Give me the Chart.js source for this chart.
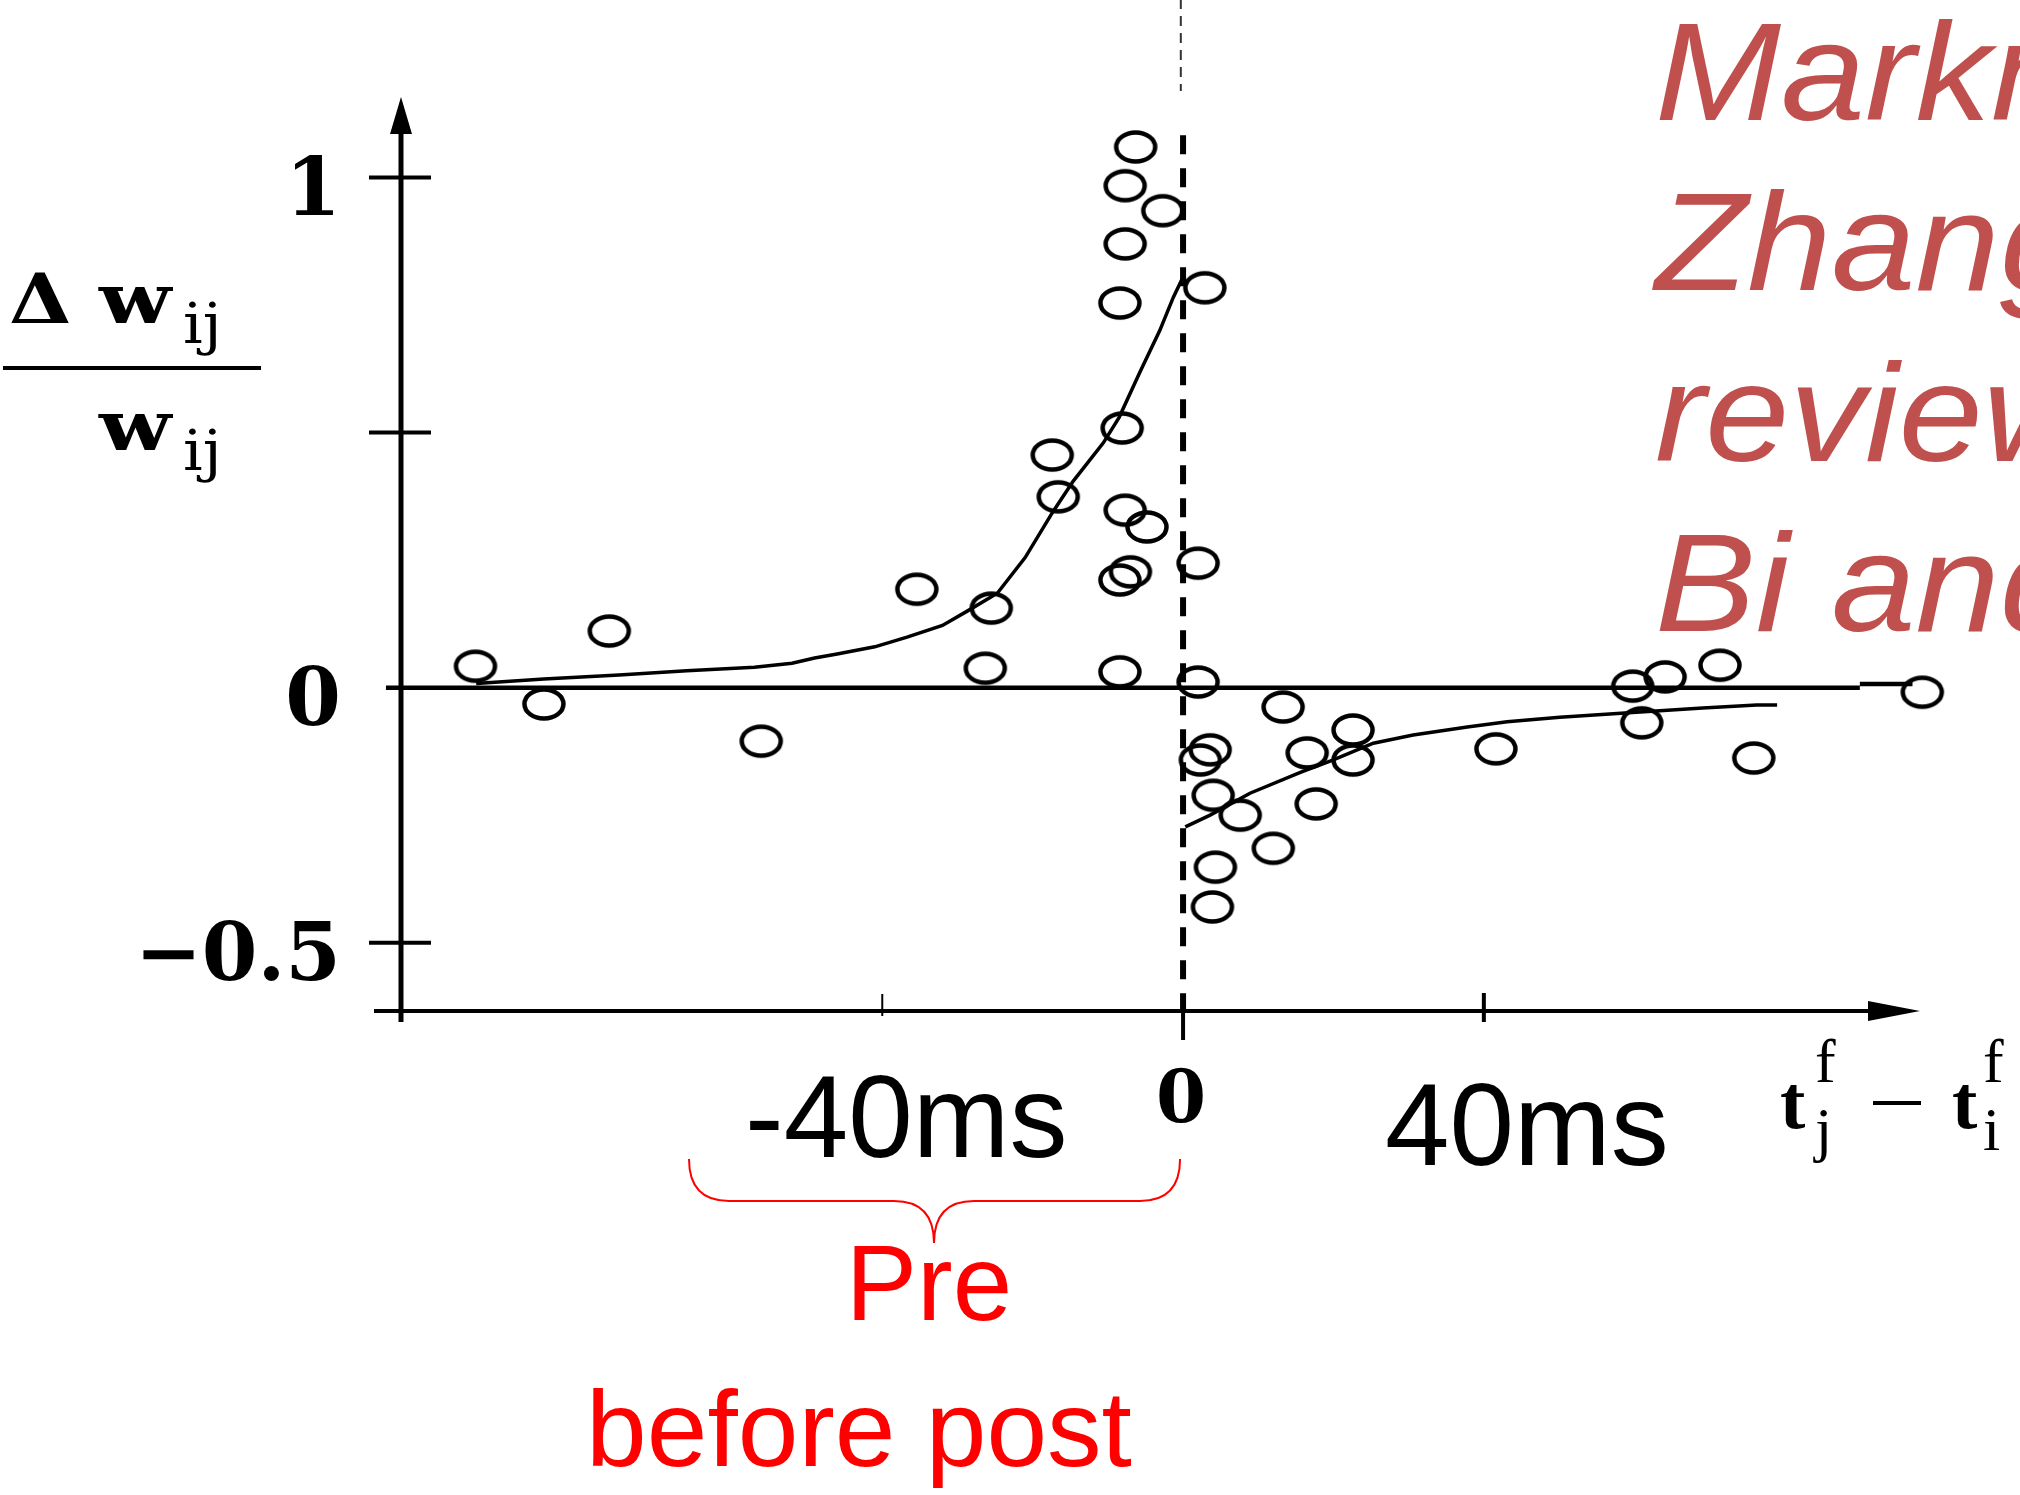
<!DOCTYPE html>
<html>
<head>
<meta charset="utf-8">
<script src="https://cdn.jsdelivr.net/npm/chart.js@4.4.1/dist/chart.umd.min.js"></script>
<style>
  html, body { margin: 0; padding: 0; background: #fff; overflow: hidden; }
  canvas { display: block; }
</style>
</head>
<body>
<canvas id="stdp" width="2020" height="1495" style="width:2020px;height:1495px"></canvas>
<script>
// STDP window (Bi & Poo style): relative weight change vs spike timing

// measured points, x in ms (t_j - t_i), y = dw/w
const pointX = [-94.1, -85.0, -76.3, -56.1, -35.4, -25.5, -26.3, -17.4, -16.6, -8.4,
                -8.1, -7.7, -4.8, -8.4, -7.0, -8.4, -7.7, -7.7, -6.3, -2.7,
                2.9, 2.0, 2.0, 13.3, 3.6, 2.3, 4.0, 7.6, 4.3, 3.9,
                12.0, 17.7, 16.5, 22.6, 22.6, 41.6, 59.8, 64.1, 71.4, 61.0,
                75.9, 98.3];
const pointY = [0.042, -0.032, 0.111, -0.105, 0.193, 0.156, 0.038, 0.456, 0.374, 0.031,
                0.509, 0.348, 0.315, 0.211, 0.227, 0.754, 0.870, 0.984, 1.060, 0.935,
                0.784, 0.244, 0.011, -0.038, -0.122, -0.142, -0.211, -0.250, -0.352, -0.430,
                -0.315, -0.228, -0.128, -0.083, -0.142, -0.120, 0.003, 0.021, 0.044, -0.069,
                -0.138, -0.009];

// fitted curves
const leftFitX = [-94, -85, -75, -66, -57, -52, -49, -46, -41, -36.7, -32, -28.7, -24.7, -21, -17.3, -14.6, -10.6, -8.5, -5.7, -3.1, -1.3, 0];
const leftFitY = [0.008, 0.017, 0.025, 0.033, 0.040, 0.048, 0.058, 0.066, 0.080, 0.099, 0.122, 0.150, 0.185, 0.255, 0.345, 0.405, 0.480, 0.530, 0.620, 0.700, 0.765, 0.805];
const rightFitX = [0.3, 3.6, 8.9, 15.6, 19.9, 25.3, 30.6, 37.8, 43.1, 50.1, 60.8, 69.1, 76.3, 79];
const rightFitY = [-0.273, -0.250, -0.207, -0.166, -0.142, -0.109, -0.093, -0.077, -0.067, -0.058, -0.048, -0.040, -0.034, -0.034];

// reference lines
const zeroLineX = [-106, 90];
const zeroLineY = [0, 0];
const zeroTailX = [90, 97];
const zeroTailY = [0.007, 0.007];
const splitX = [0, 0];
const splitY = [1.083, -0.634];
const guideX = [-0.3, -0.3];
const guideY = [1.35, 1.17];

// axes
const yTickValues = [-0.5, 0, 0.5, 1];
const yTickLabels = ['\u22120.5', '0', '', '1'];
const xTickValues = [-40, 0, 40];
const xTickLabels = ['-40ms', '0', '40ms'];

const citations = ['Markram et al. 1997', 'Zhang et al. 1998', 'review', 'Bi and Poo 2001'];

const toXY = (xs, ys) => xs.map((x, i) => ({ x, y: ys[i] }));

// open ellipse marker, like the scanned figure
function ellipseMarker() {
    const c = document.createElement('canvas');
    c.width = 48;
    c.height = 38;
    const g = c.getContext('2d');
    g.strokeStyle = '#000';
    g.lineWidth = 4.5;
    g.beginPath();
    g.ellipse(24, 19, 19.5, 14.5, 0, 0, Math.PI * 2);
    g.stroke();
    return c;
}

function line(ctx, x1, y1, x2, y2) {
    ctx.beginPath();
    ctx.moveTo(x1, y1);
    ctx.lineTo(x2, y2);
    ctx.stroke();
}

function tri(ctx, p1, p2, p3) {
    ctx.beginPath();
    ctx.moveTo(p1[0], p1[1]);
    ctx.lineTo(p2[0], p2[1]);
    ctx.lineTo(p3[0], p3[1]);
    ctx.closePath();
    ctx.fill();
}

function text(ctx, str, x, y, font, sx, align) {
    ctx.save();
    ctx.font = font;
    ctx.textAlign = align || 'left';
    ctx.textBaseline = 'alphabetic';
    ctx.translate(x, y);
    ctx.scale(sx || 1, 1);
    ctx.fillText(str, 0, 0);
    ctx.restore();
}

// axis lines, arrows and cross ticks
const axesPlugin = {
    id: 'axes',
    beforeDatasetsDraw(chart) {
        const { ctx, chartArea: a, scales: { x, y } } = chart;
        ctx.save();
        ctx.strokeStyle = '#000';
        ctx.fillStyle = '#000';

        ctx.lineWidth = 5;
        line(ctx, a.left, a.top + 20, a.left, a.bottom + 11);
        tri(ctx, [a.left, a.top], [a.left - 11, a.top + 37], [a.left + 11, a.top + 37]);

        ctx.lineWidth = 4;
        line(ctx, a.left - 27, a.bottom, a.right - 30, a.bottom);
        tri(ctx, [a.right, a.bottom], [a.right - 52, a.bottom - 10], [a.right - 52, a.bottom + 10]);

        y.ticks.forEach(t => {
            if (t.value === 0) return;
            const py = y.getPixelForValue(t.value);
            line(ctx, a.left - 32, py, a.left + 30, py);
        });

        xTickValues.forEach(v => {
            const px = x.getPixelForValue(v);
            if (v < 0) {
                ctx.lineWidth = 2;
                line(ctx, px, a.bottom - 17, px, a.bottom + 5);
            } else if (v === 0) {
                ctx.lineWidth = 4;
                line(ctx, px, a.bottom, px, a.bottom + 29);
            } else {
                ctx.lineWidth = 4;
                line(ctx, px, a.bottom - 18, px, a.bottom + 11);
            }
        });
        ctx.restore();
    }
};

// axis titles, x labels, brace and slide text
const slidePlugin = {
    id: 'slide',
    afterDraw(chart) {
        const { ctx, scales: { x } } = chart;
        ctx.save();
        ctx.fillStyle = '#000';

        // y title: delta w_ij / w_ij
        text(ctx, '\u0394', 9, 323, 'bold 70px "DejaVu Serif"', 1.15);
        text(ctx, 'w', 99, 323, 'bold 70px "DejaVu Serif"', 1.2);
        text(ctx, 'ij', 183, 343, '56px "DejaVu Serif"', 1.1);
        ctx.fillRect(3, 366, 258, 4);
        text(ctx, 'w', 99, 450, 'bold 70px "DejaVu Serif"', 1.2);
        text(ctx, 'ij', 183, 470, '56px "DejaVu Serif"', 1.1);

        // x labels
        text(ctx, xTickLabels[0], x.getPixelForValue(xTickValues[0]) + 24, 1157, '116px "Liberation Sans"', 1, 'center');
        text(ctx, xTickLabels[1], x.getPixelForValue(xTickValues[1]) - 2, 1122, 'bold 72px "DejaVu Serif"', 1, 'center');
        text(ctx, xTickLabels[2], x.getPixelForValue(xTickValues[2]) + 43, 1165, '116px "Liberation Sans"', 1, 'center');

        // x title: t_j^f - t_i^f
        text(ctx, 't', 1780, 1128, 'bold 76px "Liberation Serif"');
        text(ctx, 'f', 1815, 1082, '62px "Liberation Serif"');
        text(ctx, 'j', 1815, 1150, '62px "Liberation Serif"');
        ctx.fillRect(1873, 1101, 48, 4);
        text(ctx, 't', 1952, 1128, 'bold 76px "Liberation Serif"');
        text(ctx, 'f', 1983, 1082, '62px "Liberation Serif"');
        text(ctx, 'i', 1983, 1150, '62px "Liberation Serif"');

        // red brace under the pre-before-post side
        const bl = 689, br = x.getPixelForValue(0) - 3, mid = 934;
        ctx.strokeStyle = '#ff0000';
        ctx.lineWidth = 2;
        ctx.beginPath();
        ctx.moveTo(bl, 1159);
        ctx.quadraticCurveTo(bl, 1201, bl + 40, 1201);
        ctx.lineTo(mid - 40, 1201);
        ctx.quadraticCurveTo(mid, 1201, mid, 1243);
        ctx.quadraticCurveTo(mid, 1201, mid + 40, 1201);
        ctx.lineTo(br - 40, 1201);
        ctx.quadraticCurveTo(br, 1201, br, 1159);
        ctx.stroke();

        ctx.fillStyle = '#ff0000';
        text(ctx, 'Pre', 929, 1320, '107px "Liberation Sans"', 1, 'center');
        text(ctx, 'before post', 859, 1466, '108px "Liberation Sans"', 1.01, 'center');

        // references, running off the right edge
        ctx.fillStyle = '#c0504d';
        citations.forEach((c, i) => {
            text(ctx, c, 1655, 120 + i * 170.3, 'italic 140px "Liberation Sans"', 1.08);
        });
        ctx.restore();
    }
};

new Chart(document.getElementById('stdp'), {
    type: 'scatter',
    data: {
        datasets: [
            {
                data: toXY(pointX, pointY),
                pointStyle: ellipseMarker(),
                pointRadius: 20,
                clip: false
            },
            {
                data: toXY(leftFitX, leftFitY),
                showLine: true, pointRadius: 0,
                borderColor: '#000', borderWidth: 3.5
            },
            {
                data: toXY(rightFitX, rightFitY),
                showLine: true, pointRadius: 0,
                borderColor: '#000', borderWidth: 3.5
            },
            {
                data: toXY(zeroLineX, zeroLineY),
                showLine: true, pointRadius: 0,
                borderColor: '#000', borderWidth: 4.5, clip: false
            },
            {
                data: toXY(zeroTailX, zeroTailY),
                showLine: true, pointRadius: 0,
                borderColor: '#000', borderWidth: 4.5, clip: false
            },
            {
                data: toXY(splitX, splitY),
                showLine: true, pointRadius: 0,
                borderColor: '#000', borderWidth: 6, borderDash: [19, 14], clip: false
            },
            {
                data: toXY(guideX, guideY),
                showLine: true, pointRadius: 0,
                borderColor: '#333', borderWidth: 2, borderDash: [10, 7], clip: false
            }
        ]
    },
    options: {
        responsive: false,
        animation: false,
        devicePixelRatio: 1,
        layout: { padding: { top: 97, right: 100, bottom: 484, left: 0 } },
        plugins: {
            legend: { display: false },
            tooltip: { enabled: false }
        },
        scales: {
            x: {
                type: 'linear',
                display: false,
                min: -104,
                max: 98
            },
            y: {
                type: 'linear',
                position: 'left',
                min: -0.634,
                max: 1.158,
                grid: { display: false, drawTicks: false },
                border: { display: false },
                afterBuildTicks: (s) => { s.ticks = yTickValues.map(v => ({ value: v })); },
                afterFit: (s) => {
                    s.width = 401;
                    s.paddingTop = 0;
                    s.paddingBottom = 0;
                },
                ticks: {
                    padding: 60,
                    labelOffset: 17,
                    autoSkip: false,
                    color: '#000',
                    font: { family: 'DejaVu Serif', size: 80, weight: 'bold' },
                    callback: (v) => yTickLabels[yTickValues.indexOf(v)]
                }
            }
        }
    },
    plugins: [axesPlugin, slidePlugin]
});
</script>
</body>
</html>
